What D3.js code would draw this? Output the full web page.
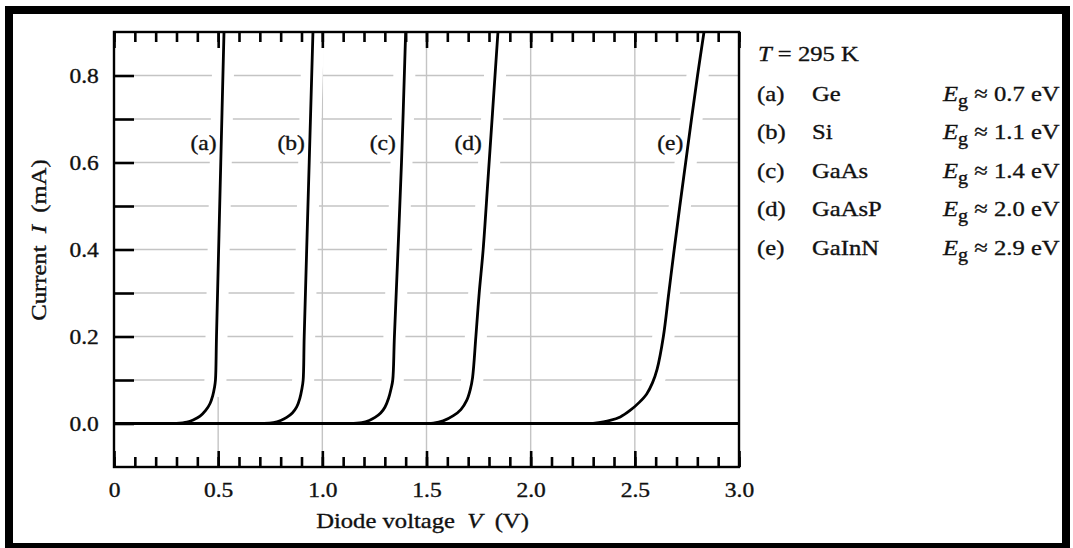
<!DOCTYPE html>
<html>
<head>
<meta charset="utf-8">
<script src="https://cdnjs.cloudflare.com/ajax/libs/d3/7.8.5/d3.min.js"></script>
<style>
  body { margin: 0; background: #fff; }
  text { font-family: "Liberation Serif", "Times New Roman", serif; fill: #111; stroke: #111; stroke-width: 0.35px; }
</style>
</head>
<body>
<div id="chart"></div>
<script>
// tick values / labels
var voltTicks = [0, 0.5, 1.0, 1.5, 2.0, 2.5, 3.0];
var voltTickLabels = ["0", "0.5", "1.0", "1.5", "2.0", "2.5", "3.0"];
var currTicks = [0, 0.2, 0.4, 0.6, 0.8];
var currTickLabels = ["0.0", "0.2", "0.4", "0.6", "0.8"];

// legend rows
var curveIds = ["(a)", "(b)", "(c)", "(d)", "(e)"];
var materials = ["Ge", "Si", "GaAs", "GaAsP", "GaInN"];
var gapEnergies = ["0.7", "1.1", "1.4", "2.0", "2.9"];
var labelVolt = [0.43, 0.85, 1.29, 1.70, 2.67];
var labelCurr = 0.645;

// I-V curves (V in volts, I in mA)
var voltA = [0.30, 0.35, 0.38, 0.413, 0.44, 0.461, 0.474, 0.482, 0.487, 0.492, 0.5125, 0.528];
var currA = [0, 0.003, 0.008, 0.017, 0.03, 0.046, 0.064, 0.082, 0.10, 0.20, 0.60, 0.90];

var voltB = [0.72, 0.765, 0.80, 0.829, 0.856, 0.877, 0.892, 0.902, 0.908, 0.913, 0.937, 0.955];
var currB = [0, 0.002, 0.007, 0.014, 0.024, 0.038, 0.058, 0.08, 0.10, 0.20, 0.60, 0.90];

var voltC = [1.13, 1.19, 1.225, 1.253, 1.28, 1.301, 1.318, 1.330, 1.338, 1.346, 1.38, 1.40];
var currC = [0, 0.002, 0.007, 0.014, 0.024, 0.038, 0.058, 0.08, 0.10, 0.20, 0.60, 0.90];

var voltD = [1.44, 1.533, 1.58, 1.629, 1.665, 1.693, 1.710, 1.721, 1.737, 1.753, 1.772, 1.795, 1.843];
var currD = [0, 0.001, 0.006, 0.018, 0.032, 0.053, 0.078, 0.105, 0.20, 0.30, 0.40, 0.56, 0.90];

var voltE = [2.30, 2.381, 2.43, 2.477, 2.52, 2.557, 2.585, 2.607, 2.637, 2.663, 2.689, 2.716, 2.744, 2.772, 2.801, 2.832];
var currE = [0, 0.007, 0.015, 0.030, 0.048, 0.068, 0.094, 0.125, 0.20, 0.30, 0.40, 0.50, 0.60, 0.70, 0.80, 0.90];

var curveVolts = [voltA, voltB, voltC, voltD, voltE];
var curveCurrs = [currA, currB, currC, currD, currE];

// Set SVG wrapper dimensions
var svgWidth = 1073;
var svgHeight = 548;

var margin = { top: 32, right: 334, bottom: 81, left: 114 };
var width = svgWidth - margin.left - margin.right;
var height = svgHeight - margin.top - margin.bottom;

// text in the picture is a bit wide, stretch it a little
var SX = 1.12;
var FS = 21;

var svg = d3.select("#chart")
  .append("svg")
  .attr("width", svgWidth)
  .attr("height", svgHeight);

// heavy outer frame
svg.append("rect")
  .attr("x", 9).attr("y", 10)
  .attr("width", 1057).attr("height", 537)
  .attr("fill", "none")
  .attr("stroke", "#000")
  .attr("stroke-width", 8);

var chartGroup = svg.append("g")
  .attr("transform", `translate(${margin.left}, ${margin.top})`);

var xScale = d3.scaleLinear().domain([0, 3]).range([0, width]);
var yScale = d3.scaleLinear().domain([-0.1, 0.9]).range([height, 0]);

// gridlines
var gridColor = "#c4c4c4";
chartGroup.selectAll(".hgrid")
  .data(d3.range(1, 9).map(d => d / 10))
  .enter()
  .append("line")
  .attr("x1", 20).attr("x2", width)
  .attr("y1", d => yScale(d)).attr("y2", d => yScale(d))
  .attr("stroke", gridColor)
  .attr("stroke-width", 1.4);

chartGroup.selectAll(".vgrid")
  .data(voltTicks.slice(1, -1))
  .enter()
  .append("line")
  .attr("x1", d => xScale(d)).attr("x2", d => xScale(d))
  .attr("y1", 16).attr("y2", height - 16)
  .attr("stroke", gridColor)
  .attr("stroke-width", 1.4);

// white halo under the steep parts of the curves
var line = d3.line()
  .x(d => xScale(d[0]))
  .y(d => yScale(d[1]))
  .curve(d3.curveCatmullRom.alpha(0.5));

curveVolts.forEach(function(volts, k) {
  var pts = volts.map((v, i) => [v, curveCurrs[k][i]]);
  chartGroup.append("path")
    .attr("d", line(pts.filter(p => p[1] >= 0.05)))
    .attr("fill", "none")
    .attr("stroke", "#fff")
    .attr("stroke-width", 22);
});

// axes: ticks point inward
function styleAxis(g) {
  g.select(".domain").remove();
  g.selectAll("line").attr("stroke", "#000").attr("stroke-width", 2.6);
  g.selectAll("text")
    .attr("font-size", FS + "px")
    .attr("fill", "#111")
    .attr("font-family", "Liberation Serif, serif");
}

var minorVolt = d3.range(0, 31).map(d => d / 10);
var minorCurr = d3.range(0, 9).map(d => d / 10);

chartGroup.append("g")
  .attr("transform", `translate(0, ${height})`)
  .call(d3.axisBottom(xScale).tickValues(minorVolt).tickSize(-10).tickFormat(""))
  .call(styleAxis);

chartGroup.append("g")
  .attr("transform", `translate(0, ${height})`)
  .call(d3.axisBottom(xScale).tickValues(voltTicks).tickSize(-16).tickPadding(15)
    .tickFormat((d, i) => voltTickLabels[i]))
  .call(styleAxis)
  .selectAll("text").attr("transform", `scale(${SX},1)`);

chartGroup.append("g")
  .call(d3.axisTop(xScale).tickValues(minorVolt).tickSize(-10).tickFormat(""))
  .call(styleAxis);

chartGroup.append("g")
  .call(d3.axisTop(xScale).tickValues(voltTicks).tickSize(-16).tickFormat(""))
  .call(styleAxis);

chartGroup.append("g")
  .call(d3.axisLeft(yScale).tickValues(minorCurr).tickSize(-20).tickFormat(""))
  .call(styleAxis);

chartGroup.append("g")
  .call(d3.axisLeft(yScale).tickValues(currTicks).tickSize(0).tickPadding(13.5)
    .tickFormat((d, i) => currTickLabels[i]))
  .call(styleAxis)
  .selectAll("text").attr("transform", `scale(${SX},1)`);

// plot frame
chartGroup.append("rect")
  .attr("x", 0).attr("y", 0)
  .attr("width", width).attr("height", height)
  .attr("fill", "none")
  .attr("stroke", "#000")
  .attr("stroke-width", 2.4);

// zero-current baseline
chartGroup.append("line")
  .attr("x1", xScale(0)).attr("x2", xScale(3))
  .attr("y1", yScale(0)).attr("y2", yScale(0))
  .attr("stroke", "#000")
  .attr("stroke-width", 2.8);

// the curves
curveVolts.forEach(function(volts, k) {
  var pts = volts.map((v, i) => [v, curveCurrs[k][i]]);
  chartGroup.append("path")
    .attr("d", line(pts))
    .attr("fill", "none")
    .attr("stroke", "#000")
    .attr("stroke-width", 2.8);
});

// curve labels
chartGroup.selectAll(".clabel")
  .data(curveIds)
  .enter()
  .append("text")
  .attr("transform", (d, i) => `translate(${xScale(labelVolt[i])}, ${yScale(labelCurr) + 7}) scale(${SX},1)`)
  .attr("text-anchor", "middle")
  .attr("font-size", FS + "px")
  .text(d => d);

// axis titles
var xTitle = svg.append("text")
  .attr("transform", `translate(${margin.left + width / 2 - 4}, 528) scale(${SX},1)`)
  .attr("text-anchor", "middle")
  .attr("font-size", "22px");
xTitle.append("tspan").text("Diode voltage\u00a0\u00a0");
xTitle.append("tspan").attr("font-style", "italic").text("V");
xTitle.append("tspan").text("\u00a0\u00a0(V)");

var yTitle = svg.append("text")
  .attr("transform", `translate(46, ${margin.top + 208}) rotate(-90) scale(${SX},1)`)
  .attr("text-anchor", "middle")
  .attr("font-size", "22px");
yTitle.append("tspan").text("Current\u00a0\u00a0");
yTitle.append("tspan").attr("font-style", "italic").text("I");
yTitle.append("tspan").text("\u00a0\u00a0(mA)");

// legend
var legend = svg.append("g");
var tRow = legend.append("text")
  .attr("transform", `translate(758, 61) scale(${SX},1)`)
  .attr("font-size", "22px");
tRow.append("tspan").attr("font-style", "italic").text("T");
tRow.append("tspan").text(" = 295 K");

curveIds.forEach(function(id, i) {
  var yy = 101 + i * 38.4;
  legend.append("text")
    .attr("transform", `translate(757, ${yy}) scale(${SX},1)`)
    .attr("font-size", "22px")
    .text(id);
  legend.append("text")
    .attr("transform", `translate(812, ${yy}) scale(${SX},1)`)
    .attr("font-size", "22px")
    .text(materials[i]);
  var eg = legend.append("text")
    .attr("transform", `translate(943, ${yy}) scale(${SX},1)`)
    .attr("font-size", "22px");
  eg.append("tspan").attr("font-style", "italic").text("E");
  eg.append("tspan").attr("font-size", "18px").attr("dy", 6).text("g");
  eg.append("tspan").attr("dy", -6).text(" \u2248 " + gapEnergies[i] + " eV");
});
</script>
</body>
</html>
